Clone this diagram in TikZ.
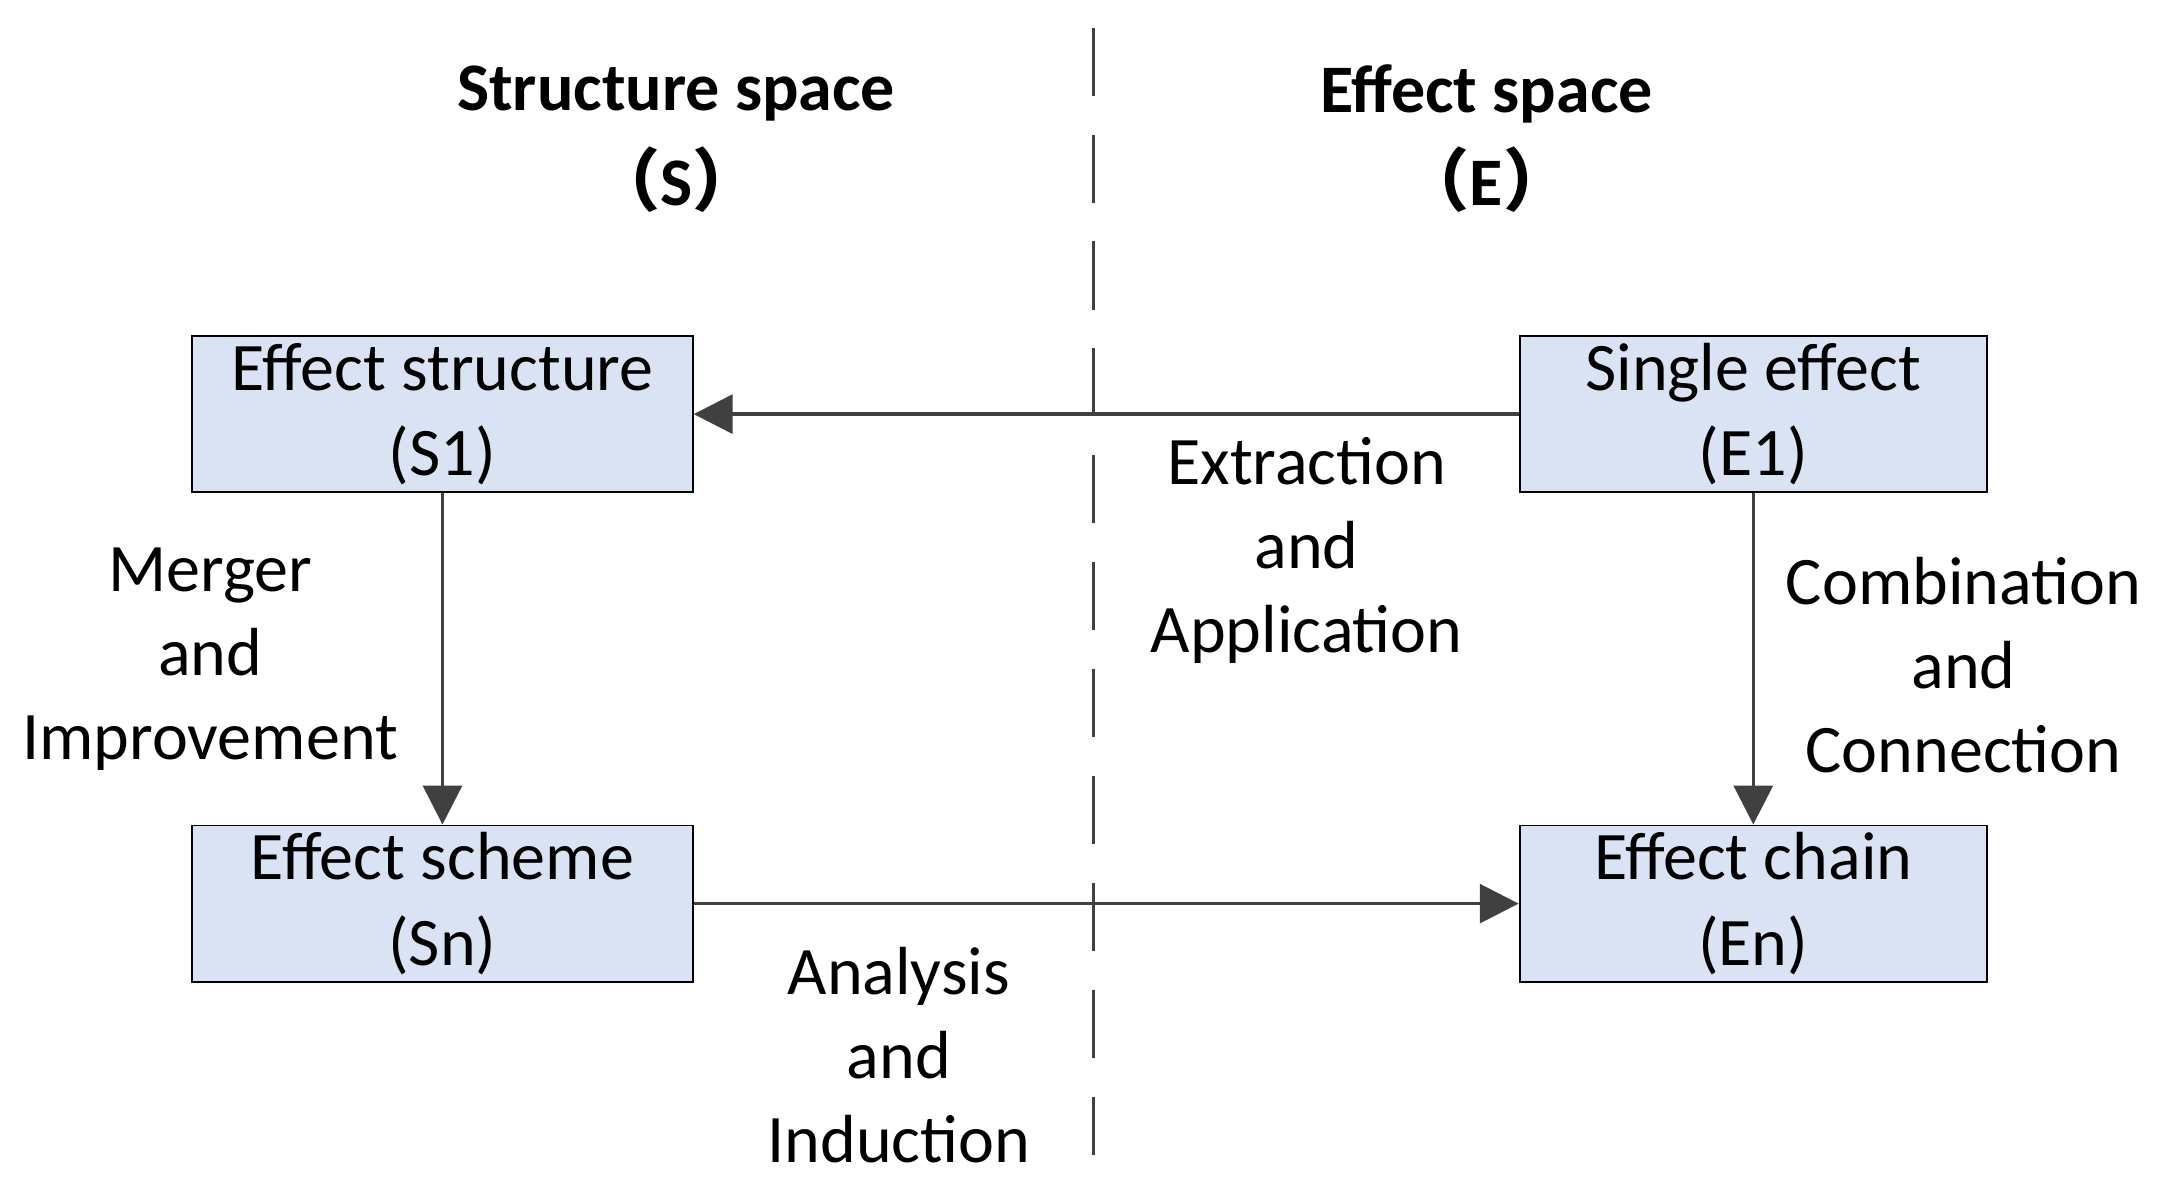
\documentclass[tikz,border=0pt]{standalone}
\usepackage{fontspec}
\setmainfont{Carlito}
\newfontfamily\cjk{Noto Sans CJK SC}
\usetikzlibrary{arrows.meta}
\definecolor{boxfill}{HTML}{DAE3F3}
\definecolor{linegray}{HTML}{404040}
\begin{document}
\begin{tikzpicture}
	 \tikzset{box/.style={draw=black, fill=boxfill, minimum width=3.62cm, minimum height=1.13cm, inner sep=0pt, align=center, font=\fontsize{14}{17.5}\selectfont},
	 lbl/.style={align=center, font=\fontsize{14}{17.3}\selectfont},
	 ttl/.style={align=center, font=\fontsize{14}{17}\selectfont\bfseries},
	 arr/.style={draw=linegray, line width=0.7pt, -{Triangle[length=8pt,width=8pt]}}}
	 \useasboundingbox (0,0) rectangle (15.6,-8.527);
	 % dashed divider
	 \draw [linegray, line width=0.7pt, dash pattern=on 14pt off 8pt] (7.91,-0.2) -- (7.91,-8.35);
	 % titles
	 \node [ttl] (ts) at (4.89,-0.68) {Structure space};
	 \node [ttl] (tsp) at (4.89,-1.30) {{\cjk （}S{\cjk ）}};
	 \node [ttl] (te) at (10.75,-0.68) {Effect space};
	 \node [ttl] (tep) at (10.75,-1.30) {{\cjk （}E{\cjk ）}};
	 % boxes
	 \node [box] (s1) at (3.20,-2.995) {Effect structure\\(S1)};
	 \node [box] (sn) at (3.20,-6.535) {Effect scheme\\(Sn)};
	 \node [box, minimum width=3.38cm] (e1) at (12.68,-2.995) {Single effect\\(E1)};
	 \node [box, minimum width=3.38cm] (en) at (12.68,-6.535) {Effect chain\\(En)};
	 % connectors
	 \draw [arr] (e1) -- (s1);
	 \draw [arr] (s1) -- (sn);
	 \draw [arr] (e1) -- (en);
	 \draw [arr] (sn) -- (en);
	 % labels
	 \node [lbl] (l1) at (1.52,-4.77) {Merger\\and\\Improvement};
	 \node [lbl] (l2) at (9.45,-3.98) {Extraction\\and\\Application};
	 \node [lbl] (l3) at (14.20,-4.81) {Combination\\and\\Connection};
	 \node [lbl] (l4) at (6.50,-7.63) {Analysis\\and\\Induction};
\end{tikzpicture}
\end{document}
